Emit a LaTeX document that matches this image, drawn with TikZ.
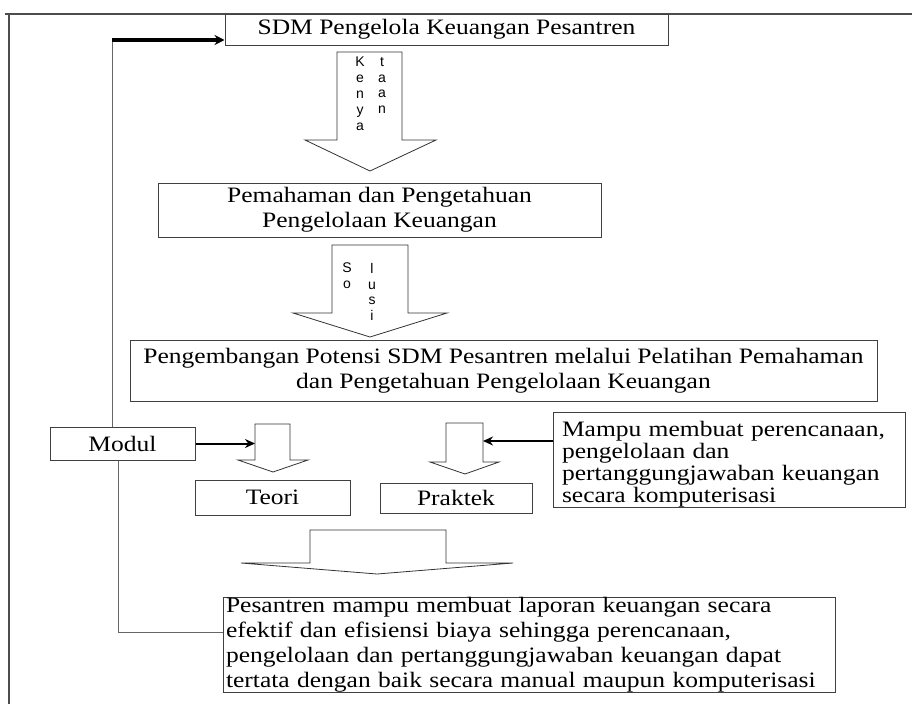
\documentclass[tikz,border=0pt]{standalone}
\usepackage{fontspec}
\setmainfont{Liberation Serif}[FakeStretch=1.16]
\newfontfamily\arialf{Liberation Sans}
\usetikzlibrary{arrows.meta}
\begin{document}
\begin{tikzpicture}[x=1pt,y=-1pt,
  box/.style={draw=black!75, line width=1pt, inner sep=0pt, font=\fontsize{22}{25}\selectfont, align=center},
  blk/.style={draw=black!80, line width=0.8pt, fill=white},
  conn/.style={draw=black!60, line width=1pt},
  frame/.style={draw=black!70, line width=1.6pt},
  arr/.style={draw=black, line width=2pt, -{Stealth[length=10pt,width=9pt]}},
  thickarr/.style={draw=black, line width=3.2pt, -{Stealth[length=10pt,width=10pt]}},
  vlet/.style={font=\arialf\fontsize{14}{15.8}\selectfont, align=center, inner sep=0pt, anchor=north}]
\useasboundingbox (0,0) rectangle (912,704);
% frame
\draw[frame] (5,14) -- (912,14);
\draw[frame] (9,14) -- (9,704);
% boxes
\node[box, minimum width=443pt, minimum height=31pt] (sdm) at (446.5,29.5) {SDM Pengelola Keuangan Pesantren};
\node[box, minimum width=443pt, minimum height=54pt] (pem) at (379.5,210) {Pemahaman dan Pengetahuan\\Pengelolaan Keuangan};
\node[box, minimum width=747pt, minimum height=61pt] (peng) at (503.5,370.5) {Pengembangan Potensi SDM Pesantren melalui Pelatihan Pemahaman\\dan Pengetahuan Pengelolaan Keuangan};
\node[box, minimum width=145pt, minimum height=33pt] (modul) at (122.5,443.5) {Modul};
\node[box, minimum width=155pt, minimum height=35pt] (teori) at (272.5,497.5) {Teori};
\node[box, minimum width=152pt, minimum height=30pt] (praktek) at (456,498) {Praktek};
\node[box, font=\fontsize{22}{22}\selectfont, align=left, text width=334pt, inner xsep=9pt, minimum height=92pt] (mampu) at (729,460) {\rule{0pt}{24pt}Mampu membuat perencanaan,\\pengelolaan dan\\pertanggungjawaban keuangan\\secara komputerisasi};
\node[box, align=left, text width=606pt, inner xsep=3pt, minimum height=95pt] (pes) at (529,644.5) {Pesantren mampu membuat laporan keuangan secara\\efektif dan efisiensi biaya sehingga perencanaan,\\pengelolaan dan pertanggungjawaban keuangan dapat\\tertata dengan baik secara manual maupun komputerisasi};
% block arrows
\draw[blk] (337,52) -- (402,52) -- (402,140) -- (436,140) -- (370,171) -- (305,140) -- (337,140) -- cycle;
\draw[blk] (332,245) -- (408,245) -- (408,313) -- (447,313) -- (370,337) -- (293,313) -- (332,313) -- cycle;
\draw[blk] (255,424) -- (290,424) -- (290,460) -- (308,460) -- (273,472) -- (238,460) -- (255,460) -- cycle;
\draw[blk] (446,423) -- (483,423) -- (483,462) -- (499,462) -- (465,474) -- (430,462) -- (446,462) -- cycle;
\draw[blk] (310,530) -- (446,530) -- (446,563) -- (513,563) -- (377,574) -- (241,563) -- (310,563) -- cycle;
% vertical letters
\node[vlet] (kenya) at (360,57) {K\\e\\n\\y\\a};
\node[vlet] (taan) at (382,57) {t\\a\\a\\n};
\node[vlet] (so) at (347,263) {S\\o};
\node[vlet] (lusi) at (372,263) {l\\u\\s\\i};
% connectors
\coordinate (corner) at (112,40);
\draw[conn] (modul.north -| corner) -- (corner);
\draw[thickarr] (corner) -- (corner -| sdm.west);
\coordinate (corner2) at (118,632);
\draw[conn] (modul.south -| corner2) -- (corner2) -- (corner2 -| pes.west);
\coordinate (tshaft) at (255,443.5);
\draw[arr] (modul.east) -- (tshaft);
\coordinate (pshaft) at (483,441);
\draw[arr] (mampu.west |- pshaft) -- (pshaft);
\end{tikzpicture}
\end{document}
